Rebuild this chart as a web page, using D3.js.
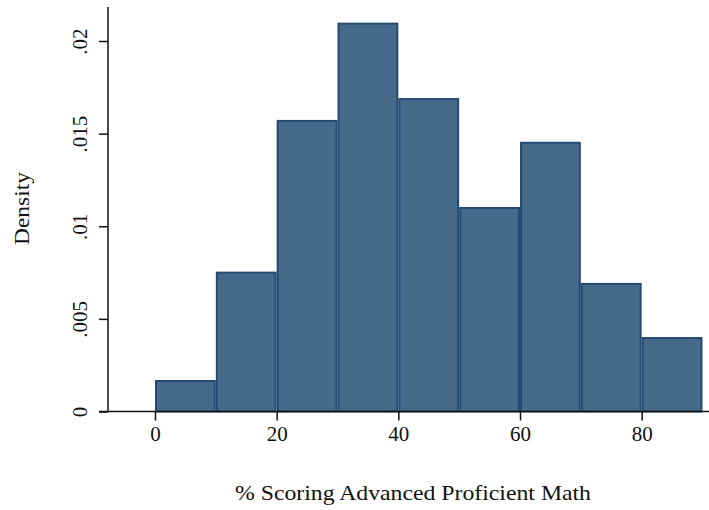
<!DOCTYPE html>
<html>
<head>
<meta charset="utf-8">
<script src="https://cdn.jsdelivr.net/npm/d3@7"></script>
<style>
  html, body { margin: 0; padding: 0; background: #fff; }
  svg { display: block; }
  svg text { font-family: "Liberation Serif", "Times New Roman", serif; fill: #111; }
</style>
</head>
<body>
<svg id="chart" width="709" height="510"></svg>
<script>
// Data
const binStarts = [0, 10, 20, 30, 40, 50, 60, 70, 80];
const binWidth = 10;
const densities = [0.0017, 0.00755, 0.01574, 0.02099, 0.01692, 0.01104, 0.01456, 0.00694, 0.00402];
const xTicks = [0, 20, 40, 60, 80];
const yTicks = [0, 0.005, 0.01, 0.015, 0.02];
const yTickLabels = ["0", ".005", ".01", ".015", ".02"];
const xTitle = "% Scoring Advanced Proficient Math";
const yTitle = "Density";

const serif = "'Liberation Serif', 'Times New Roman', serif";
const svg = d3.select("#chart");
const x = d3.scaleLinear().domain([-7.725, 91.07]).range([108, 709]);
const y = d3.scaleLinear().domain([0, 0.02]).range([411.5, 41]);

// bars
svg.append("g").selectAll("rect")
  .data(binStarts.map((s, i) => ({ s, d: densities[i] })))
  .join("rect")
  .attr("x", d => x(d.s) + 1)
  .attr("width", d => x(d.s + binWidth) - x(d.s) - 2)
  .attr("y", d => y(d.d) + 1)
  .attr("height", d => y(0) - y(d.d) - 1)
  .attr("fill", "#476a8a")
  .attr("stroke", "#244b72")
  .attr("stroke-width", 2);

// x axis
const xAxis = d3.axisBottom(x).tickValues(xTicks).tickSize(9).tickPadding(6).tickFormat(d3.format("d"));
const gx = svg.append("g").attr("transform", `translate(0,${y(0)})`).call(xAxis)
  .attr("font-family", null).attr("font-size", null);
gx.select(".domain").remove();
gx.insert("line", ":first-child").attr("x1", 99).attr("x2", 709).attr("y1", 0).attr("y2", 0)
  .attr("stroke", "#111").attr("stroke-width", 1.5);
gx.selectAll(".tick line").attr("stroke", "#111").attr("stroke-width", 1.5);
gx.selectAll(".tick text").style("font-size", "21px").style("font-family", serif).attr("fill", "#111");

// y axis
const yAxis = d3.axisLeft(y).tickValues(yTicks).tickSize(9).tickPadding(0).tickFormat((d, i) => yTickLabels[i]);
const gy = svg.append("g").attr("transform", `translate(108,0)`).call(yAxis)
  .attr("font-family", null).attr("font-size", null);
gy.select(".domain").remove();
gy.insert("line", ":first-child").attr("x1", 0).attr("x2", 0).attr("y1", 7).attr("y2", y(0))
  .attr("stroke", "#111").attr("stroke-width", 1.5);
gy.selectAll(".tick line").attr("stroke", "#111").attr("stroke-width", 1.5);
gy.selectAll(".tick text")
  .style("font-size", "21px").style("font-family", serif).attr("fill", "#111")
  .attr("x", null).attr("dy", null)
  .attr("text-anchor", "middle")
  .attr("transform", "translate(-21,0) rotate(-90)");

// titles
svg.append("text")
  .attr("x", 413).attr("y", 500)
  .attr("text-anchor", "middle")
  .style("font-size", "21px").style("font-family", serif)
  .attr("textLength", 356).attr("lengthAdjust", "spacingAndGlyphs")
  .text(xTitle);

svg.append("text")
  .attr("transform", "translate(29,208.5) rotate(-90)")
  .attr("text-anchor", "middle")
  .style("font-size", "21px").style("font-family", serif)
  .attr("textLength", 73).attr("lengthAdjust", "spacingAndGlyphs")
  .text(yTitle);
</script>
</body>
</html>
